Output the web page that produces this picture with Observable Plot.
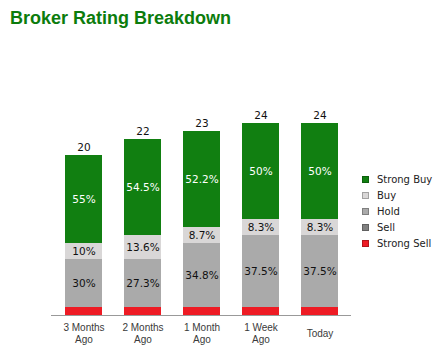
<!DOCTYPE html>
<html>
<head>
<meta charset="utf-8">
<script src="https://cdn.jsdelivr.net/npm/d3@7"></script>
<script src="https://cdn.jsdelivr.net/npm/@observablehq/plot@0.6"></script>
<style>
  html, body { margin: 0; padding: 0; background: #fff; }
  #wrap { position: relative; width: 447px; height: 354px; overflow: hidden; }
  #title { position: absolute; left: 10px; top: 8px; font: bold 18px "Liberation Sans", Arial, sans-serif; color: #0c7c0c; white-space: nowrap; }
  #chart { position: absolute; left: 0; top: 0; }
  #legend { position: absolute; left: 362px; top: 172px; font: 10px "DejaVu Sans", sans-serif; color: #222; }
  .row { height: 15.8px; display: flex; align-items: center; white-space: nowrap; }
  .sw { width: 7px; height: 7px; margin-right: 8px; box-sizing: border-box; border: 1px solid rgba(0,0,0,0.25); }
</style>
</head>
<body>
<div id="wrap">
  <div id="chart"></div>
  <div id="title">Broker Rating Breakdown</div>
  <div id="legend"></div>
</div>
<script>
const periods = ["3 Months\nAgo", "2 Months\nAgo", "1 Month\nAgo", "1 Week\nAgo", "Today"];
const ratings = ["Strong Buy", "Buy", "Hold", "Sell", "Strong Sell"];
const colors = ["#117f11", "#d9d7d7", "#aaaaaa", "#808080", "#ee1b24"];
const strongBuy  = [11, 12, 12, 12, 12];
const buy        = [2, 3, 2, 2, 2];
const hold       = [6, 6, 8, 9, 9];
const sell       = [0, 0, 0, 0, 0];
const strongSell = [1, 1, 1, 1, 1];

const series = {"Strong Buy": strongBuy, "Buy": buy, "Hold": hold, "Sell": sell, "Strong Sell": strongSell};
const totals = periods.map((p, i) => ratings.reduce((s, r) => s + series[r][i], 0));
const rows = [];
periods.forEach((p, i) => {
  for (const r of ratings) {
    const c = series[r][i];
    const pct = Math.round(c / totals[i] * 1000) / 10;
    rows.push({period: p, rating: r, count: c, label: c >= 2 ? `${pct}%` : ""});
  }
});
const totalRows = periods.map((p, i) => ({period: p, total: totals[i]}));
const stackOrder = ["Strong Sell", "Sell", "Hold", "Buy", "Strong Buy"];

const chart = Plot.plot({
  width: 447,
  height: 354,
  marginLeft: 51,
  marginRight: 96,
  marginTop: 75,
  marginBottom: 39,
  style: {fontFamily: "DejaVu Sans, sans-serif", fontSize: "11px", background: "transparent"},
  x: {domain: periods, paddingInner: 0.38, paddingOuter: 0.2, axis: null},
  y: {domain: [0, 30], axis: null},
  color: {domain: ratings, range: colors},
  marks: [
    Plot.barY(rows, Plot.stackY({x: "period", y: "count", fill: "rating", order: stackOrder})),
    Plot.text(rows, Plot.stackY({x: "period", y: "count", z: "rating", order: stackOrder, text: "label",
      fill: d => d.rating === "Strong Buy" ? "#ffffff" : "#111111", fontSize: 10.5})),
    Plot.text(totalRows, {x: "period", y: "total", text: d => String(d.total), dy: -8, fill: "#111", fontSize: 10.5}),
    Plot.ruleY([0], {stroke: "#999", strokeWidth: 1}),
    Plot.text(periods, {x: d => d, frameAnchor: "bottom", dy: 18, lineAnchor: "middle", lineHeight: 1.2,
      text: d => d, fill: "#3a3a3a", fontSize: 10, fontFamily: "Liberation Sans, Arial, sans-serif"})
  ]
});
document.getElementById("chart").appendChild(chart);

const legend = document.getElementById("legend");
ratings.forEach((r, i) => {
  const row = document.createElement("div");
  row.className = "row";
  const sw = document.createElement("div");
  sw.className = "sw";
  sw.style.background = colors[i];
  const t = document.createElement("span");
  t.textContent = r;
  row.appendChild(sw);
  row.appendChild(t);
  legend.appendChild(row);
});
</script>
</body>
</html>
